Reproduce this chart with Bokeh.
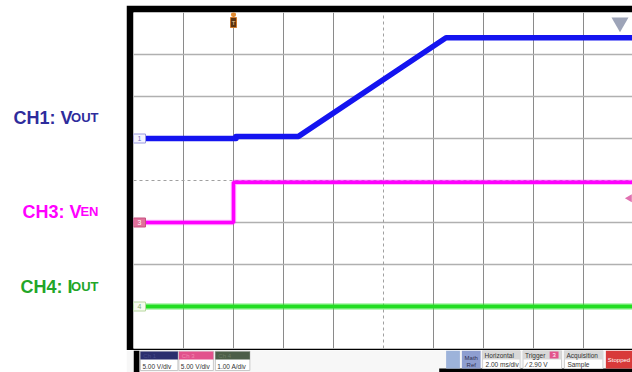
from bokeh.plotting import figure
from bokeh.layouts import row, column
from bokeh.models import Range1d, Spacer, Grid, FixedTicker
from bokeh.core.properties import value
from bokeh.embed import file_html
from bokeh.resources import INLINE
import math

FONT = value("Liberation Sans")

# ---- acquisition settings -------------------------------------------------
TIME_PER_DIV = 2.0          # ms/div
T_START = -4.0              # trigger (t = 0) sits two divisions from the left
N_HDIV = 10
N_VDIV = 8

# ---- channel traces -------------------------------------------------------
# CH1: V_OUT, 5 V/div, ground marker at +1 div
ch1_t = [-4.0, 0.1, 0.1, 2.6, 8.5, 16.0]
ch1_v = [0.0, 0.0, 0.25, 0.25, 12.0, 12.0]
ch1_scale, ch1_offset = 5.0, 1.0

# CH3: V_EN, 5 V/div, ground marker at -1 div
ch3_t = [-4.0, 0.0, 0.0, 16.0]
ch3_v = [0.0, 0.0, 4.8, 4.8]
ch3_scale, ch3_offset = 5.0, -1.0

# CH4: I_OUT, 1 A/div, ground marker at -3 div
ch4_t = [-4.0, 16.0]
ch4_i = [0.0, 0.0]
ch4_scale, ch4_offset = 1.0, -3.0

trigger_level = 2.90        # V on CH3

# ---- label texts ----------------------------------------------------------
side_main = ["CH1: V", "CH3: V", "CH4: I"]
side_sub = ["OUT", "EN", "OUT"]
side_colors = ["#2e2c9c", "#ff00ff", "#22a628"]
side_baseline = [117, 211, 286]
side_sub_x = [98, 98, 98]
side_main_x = [72, 81, 72]

# ---- status bar -----------------------------------------------------------
ch_badges = ["Ch 1", "Ch 3", "Ch 4"]
ch_scales = ["5.00 V/div", "5.00 V/div", "1.00 A/div"]
ch_badge_colors = ["#2b2f6e", "#e2528c", "#4c5e48"]
ch_badge_x0 = [133, 172, 209]
ch_badge_x1 = [171, 207, 244]

info_titles = ["Horizontal", "Trigger", "Acquisition"]
info_values = ["2.00 ms/div", "\u2215     2.90 V", "Sample"]
info_x0 = [480, 521, 563]
info_x1 = [518, 560, 602]


def to_div(vals, scale, offset):
    return [offset + v / scale for v in vals]


# ---- left label panel -----------------------------------------------------
left = figure(width=126, height=372, x_range=Range1d(0, 126), y_range=Range1d(372, 0),
              x_axis_type=None, y_axis_type=None, toolbar_location=None,
              output_backend="svg", min_border=0, outline_line_color=None)
left.grid.visible = False
left.text(x=side_main_x, y=side_baseline, text=side_main, text_color=side_colors,
          text_font=FONT, text_font_style="bold", text_font_size="18px",
          text_align="right", text_baseline="alphabetic")
left.text(x=side_sub_x, y=side_baseline, text=side_sub, text_color=side_colors,
          text_font=FONT, text_font_style="bold", text_font_size="13px",
          text_align="right", text_baseline="alphabetic")

# ---- scope screen ---------------------------------------------------------
frame_w = 499
px_per_div = 50
x_end = T_START + frame_w / px_per_div * TIME_PER_DIV
p = figure(width=506, height=345, x_range=Range1d(T_START, x_end),
           y_range=Range1d(-N_VDIV / 2, N_VDIV / 2),
           x_axis_type=None, y_axis_type=None, toolbar_location=None,
           output_backend="svg", min_border_left=7, min_border_right=0,
           min_border_top=7, min_border_bottom=2,
           border_fill_color="black", background_fill_color="white",
           outline_line_color=None)

center_t = T_START + N_HDIV / 2 * TIME_PER_DIV
v_ticks = [T_START + k * TIME_PER_DIV for k in range(1, N_HDIV)]
h_ticks = [k - N_VDIV / 2 for k in range(1, N_VDIV)]
p.add_layout(Grid(dimension=0, ticker=FixedTicker(ticks=[t for t in v_ticks if t != center_t]),
                  grid_line_color="#8a8a8a", grid_line_width=1))
p.add_layout(Grid(dimension=1, ticker=FixedTicker(ticks=[h for h in h_ticks if h != 0]),
                  grid_line_color="#b0b0b0", grid_line_width=1.3))
p.add_layout(Grid(dimension=0, ticker=FixedTicker(ticks=[center_t]),
                  grid_line_color="#a0a0a0", grid_line_width=1, grid_line_dash="3 3"))
p.add_layout(Grid(dimension=1, ticker=FixedTicker(ticks=[0]),
                  grid_line_color="#a0a0a0", grid_line_width=1, grid_line_dash="3 3"))

# traces (fuzzy halo for the noisy ones)
y4 = to_div(ch4_i, ch4_scale, ch4_offset)
p.line(ch4_t, y4, line_color="#33e633", line_width=7, line_alpha=0.35)
p.line(ch4_t, y4, line_color="#22dd22", line_width=4)

y3 = to_div(ch3_v, ch3_scale, ch3_offset)
p.line(ch3_t, y3, line_color="#ff33ff", line_width=5.5, line_alpha=0.35)
p.line(ch3_t, y3, line_color="#ff00ff", line_width=3.5)

y1 = to_div(ch1_v, ch1_scale, ch1_offset)
p.line(ch1_t, y1, line_color="#1414f0", line_width=5.5, line_join="round")

# ground reference markers
mk_t = T_START + 6 / px_per_div * TIME_PER_DIV
p.rect(x=[mk_t] * 3, y=[ch1_offset, ch3_offset, ch4_offset], width=12, height=9,
       width_units="screen", height_units="screen",
       fill_color=["#f4f4ff", "#e0709a", "#f6fbf0"],
       line_color=["#9a9ae0", "#c85080", "#b8d8a0"], line_width=1)
p.text(x=[mk_t] * 3, y=[ch1_offset, ch3_offset, ch4_offset], text=["1", "3", "4"],
       text_color=["#7070c0", "#ffffff", "#8ab070"], text_font=FONT,
       text_font_size="7px", text_align="center", text_baseline="middle")

# trigger position flag at t = 0
flag_y = N_VDIV / 2 - 10 / 42
p.rect(x=[0], y=[flag_y], width=6, height=10, width_units="screen", height_units="screen",
       fill_color="#5a3312", line_color="#d07a2a", line_width=1)
p.scatter(x=[0], y=[N_VDIV / 2 - 2 / 42], marker="circle", size=5,
          fill_color="#e08a30", line_color=None)
p.text(x=[0], y=[flag_y], text=["T"], text_color="#f0d0a0", text_font=FONT,
       text_font_size="6px", text_align="center", text_baseline="middle")

# trigger level arrow on the right edge
p.scatter(x=[x_end - 0.12], y=[ch3_offset + trigger_level / ch3_scale], marker="triangle",
          angle=math.pi / 2, size=8, fill_color="#e070b0", line_color=None)

# horizontal position indicator, top right
p.scatter(x=[x_end - 0.5], y=[N_VDIV / 2 - 10 / 42], marker="inverted_triangle",
          size=17, fill_color="#8c94ac", fill_alpha=0.85, line_color=None)

# ---- status bar -----------------------------------------------------------
sb = figure(width=506, height=22, x_range=Range1d(126, 632), y_range=Range1d(372, 350),
            x_axis_type=None, y_axis_type=None, toolbar_location=None,
            output_backend="svg", min_border=0, outline_line_color=None,
            background_fill_color="#f7f7f7", border_fill_color="#f7f7f7")
sb.grid.visible = False
sb.quad(left=[126], right=[132], bottom=[372], top=[350], fill_color="black", line_color=None)
sb.quad(left=[436], right=[632], bottom=[372], top=[368], fill_color="black", line_color=None)

# channel badges
sb.quad(left=ch_badge_x0, right=ch_badge_x1, top=[350.5] * 3, bottom=[370] * 3,
        fill_color="white", line_color="#c8c8c8", line_width=1)
sb.quad(left=ch_badge_x0, right=ch_badge_x1, top=[351] * 3, bottom=[359] * 3,
        fill_color=ch_badge_colors, line_color=None)
sb.text(x=[x + 3 for x in ch_badge_x0], y=[355] * 3, text=ch_badges,
        text_color=["#45498a", "#f08ab0", "#6a7c64"], text_font=FONT, text_font_size="6px",
        text_baseline="middle")
sb.text(x=[x + 2 for x in ch_badge_x0], y=[365.5] * 3, text=ch_scales,
        text_color="#333333", text_font=FONT, text_font_size="6.5px", text_baseline="middle")

# menu buttons
sb.quad(left=[443], right=[457], top=[350], bottom=[368], fill_color="#9db3da", line_color=None)
sb.quad(left=[459], right=[478], top=[350], bottom=[368], fill_color="#8e9ed0", line_color=None)
sb.text(x=[468.5, 468.5], y=[357, 364], text=["Math", "Ref"], text_color="#303050",
        text_font=FONT, text_font_size="6px", text_align="center", text_baseline="middle")

# info panels
sb.quad(left=info_x0, right=info_x1, top=[350] * 3, bottom=[368] * 3,
        fill_color="white", line_color="#d0d0d0")
sb.quad(left=info_x0, right=info_x1, top=[350] * 3, bottom=[359] * 3,
        fill_color="#d8d8d8", line_color=None)
sb.text(x=[x + 2 for x in info_x0], y=[354.5] * 3, text=info_titles, text_color="#333333",
        text_font=FONT, text_font_size="6.5px", text_baseline="middle")
sb.text(x=[x + 3 for x in info_x0], y=[363.5] * 3, text=info_values, text_color="#333333",
        text_font=FONT, text_font_size="6.5px", text_baseline="middle")
sb.quad(left=[548], right=[557], top=[351], bottom=[358], fill_color="#e2528c", line_color=None)
sb.text(x=[552.5], y=[354.5], text=["3"], text_color="#ffffff", text_font=FONT,
        text_font_size="6px", text_align="center", text_baseline="middle")

# run state
sb.quad(left=[605], right=[640], top=[350], bottom=[368], fill_color="#d83a3a", line_color=None)
sb.text(x=[607], y=[359], text=["Stopped"], text_color="#ffffff", text_font=FONT,
        text_font_size="6px", text_baseline="middle")

layout = row(left, column(Spacer(width=506, height=5), p, sb, spacing=0), spacing=0)

open("out.html", "w").write(file_html(layout, INLINE))
